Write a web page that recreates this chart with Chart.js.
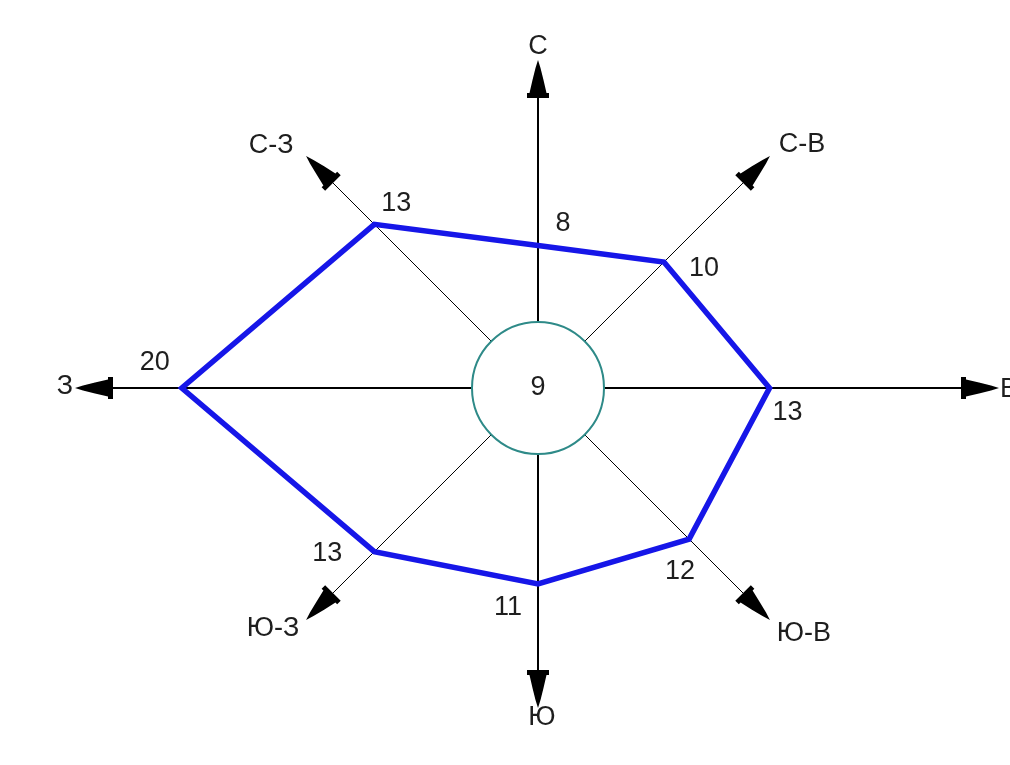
<!DOCTYPE html>
<html><head><meta charset="utf-8">
<script src="https://cdn.jsdelivr.net/npm/chart.js@4"></script>
<style>html,body{margin:0;padding:0;background:#fff}#wrap{position:relative;width:1010px;height:765px}</style>
</head><body><div id="wrap"><canvas id="c"></canvas></div>
<script>
// ---- data ----
const directions = ['С', 'С-В', 'В', 'Ю-В', 'Ю', 'Ю-З', 'З', 'С-З'];
const windFrequency = [8, 10, 13, 12, 11, 13, 20, 13];
const calmValue = 9;
const scaleMax = 21;

// ---- styling ----
const FONT = '27px "Liberation Sans", Arial, sans-serif';
const TEXT = '#1e1e1e';
const axisLength = [328, 328, 461, 328, 320, 328, 463, 328];
const axisWidth = [2, 1, 2, 1, 2, 1, 2, 1];
const dirLabelOffset = [[0, -13, 'center'], [32, -12, 'center'], [1, 2, 'left'], [34, 14, 'center'],
                        [4, 10, 'center'], [-33, 9, 'center'], [-2, -1, 'right'], [-35, -11, 'center']];
const valLabelOffset = [[25, -22], [40, 6], [18, 25], [-9, 32], [-30, 24], [-47, 2], [-27, -25], [22, -21]];
const calmRadius = 66;

function arrowHead(ctx, tx, ty, ux, uy) {
  const vx = -uy, vy = ux;
  const shape = [[-38, 11], [-33, 11], [-33, 8.5], [-20, 5.5], [-8, 2.5], [0, 0],
                 [-8, -2.5], [-20, -5.5], [-33, -8.5], [-33, -11], [-38, -11]];
  ctx.beginPath();
  shape.forEach(([u, v], k) => {
    const x = tx + ux * u + vx * v, y = ty + uy * u + vy * v;
    k ? ctx.lineTo(x, y) : ctx.moveTo(x, y);
  });
  ctx.closePath();
  ctx.fill();
}

const roseDecor = {
  id: 'roseDecor',
  beforeDatasetsDraw(chart) {
    const s = chart.scales.r, ctx = chart.ctx;
    const cx = s.xCenter, cy = s.yCenter;
    ctx.save();
    ctx.fillStyle = '#000';
    ctx.strokeStyle = '#000';
    directions.forEach((d, i) => {
      const p = s.getPointPosition(i, 100);
      const ux = (p.x - cx) / 100, uy = (p.y - cy) / 100;
      const L = axisLength[i];
      ctx.lineWidth = axisWidth[i];
      ctx.beginPath();
      ctx.moveTo(cx + ux * calmRadius, cy + uy * calmRadius);
      ctx.lineTo(cx + ux * (L - 30), cy + uy * (L - 30));
      ctx.stroke();
      arrowHead(ctx, cx + ux * L, cy + uy * L, ux, uy);
      // direction label
      const o = dirLabelOffset[i];
      ctx.font = FONT;
      ctx.fillStyle = TEXT;
      ctx.textAlign = o[2];
      ctx.textBaseline = 'middle';
      ctx.fillText(d, cx + ux * L + o[0], cy + uy * L + o[1]);
      ctx.fillStyle = '#000';
    });
    ctx.lineWidth = 2;
    ctx.strokeStyle = '#2e8a88';
    ctx.beginPath();
    ctx.arc(cx, cy, calmRadius, 0, Math.PI * 2);
    ctx.stroke();
    ctx.restore();
  },
  afterDatasetsDraw(chart) {
    const s = chart.scales.r, ctx = chart.ctx;
    const meta = chart.getDatasetMeta(0);
    ctx.save();
    ctx.font = FONT;
    ctx.fillStyle = TEXT;
    ctx.textAlign = 'center';
    ctx.textBaseline = 'middle';
    meta.data.forEach((pt, i) => {
      const o = valLabelOffset[i];
      ctx.fillText(String(windFrequency[i]), pt.x + o[0], pt.y + o[1]);
    });
    ctx.fillText(String(calmValue), s.xCenter, s.yCenter);
    ctx.restore();
  }
};

new Chart(document.getElementById('c'), {
  type: 'radar',
  data: {
    labels: directions,
    datasets: [{
      data: windFrequency,
      borderColor: '#1616e8',
      borderWidth: 5.5,
      borderJoinStyle: 'miter',
      fill: false,
      pointRadius: 0,
      pointHoverRadius: 0,
      tension: 0
    }]
  },
  options: {
    responsive: true,
    maintainAspectRatio: false,
    animation: false,
    layout: { padding: { top: 14, bottom: 3, left: 164, right: 98 } },
    plugins: { legend: { display: false }, tooltip: { enabled: false } },
    scales: {
      r: {
        min: 0,
        max: scaleMax,
        ticks: { display: false },
        grid: { display: false },
        angleLines: { display: false },
        pointLabels: { display: false }
      }
    }
  },
  plugins: [roseDecor]
});
</script>
</body></html>
